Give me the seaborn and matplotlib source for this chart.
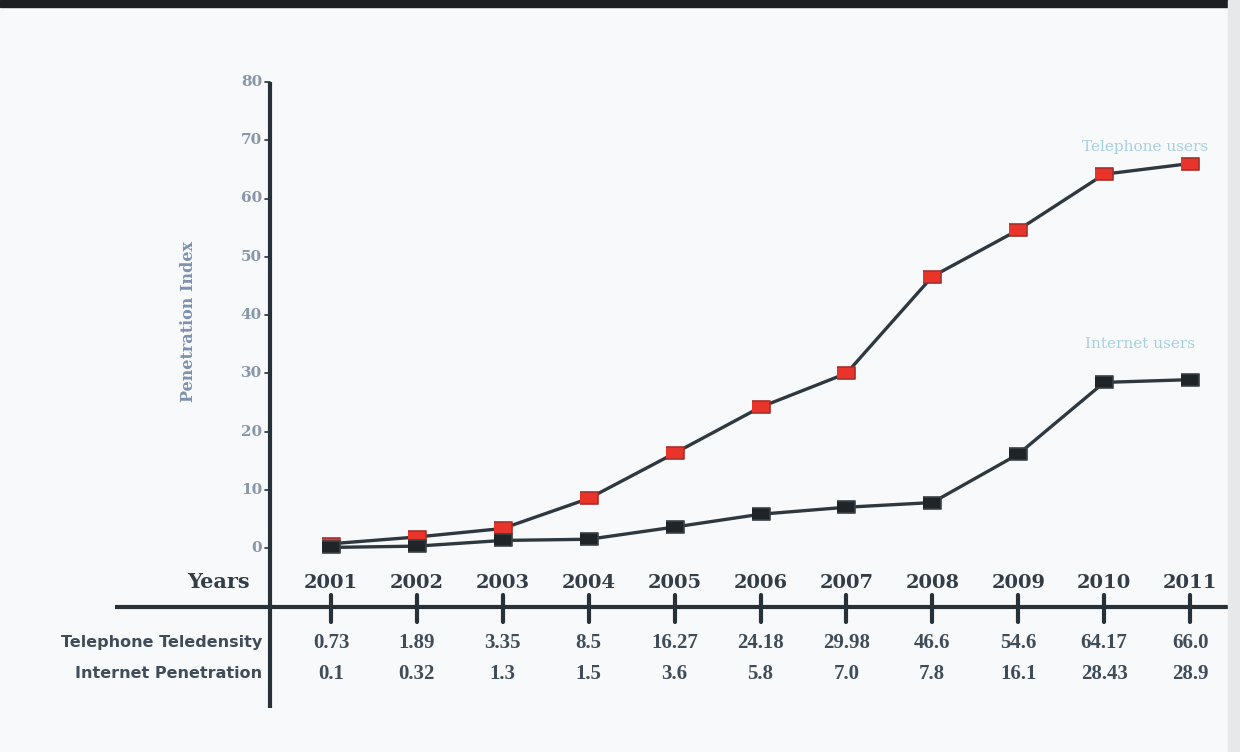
import matplotlib
matplotlib.use("Agg")
import matplotlib.pyplot as plt
import seaborn as sns
import pandas as pd

# Data
years = [2001, 2002, 2003, 2004, 2005, 2006, 2007, 2008, 2009, 2010, 2011]
teledensity = [0.73, 1.89, 3.35, 8.5, 16.27, 24.18, 29.98, 46.6, 54.6, 64.17, 66.0]
internet = [0.1, 0.32, 1.3, 1.5, 3.6, 5.8, 7.0, 7.8, 16.1, 28.43, 28.9]
tele_labels = ["0.73", "1.89", "3.35", "8.5", "16.27", "24.18", "29.98", "46.6", "54.6", "64.17", "66.0"]
inet_labels = ["0.1", "0.32", "1.3", "1.5", "3.6", "5.8", "7.0", "7.8", "16.1", "28.43", "28.9"]
y_ticks = [0, 10, 20, 30, 40, 50, 60, 70, 80]

sns.set_theme(style="white")
plt.rcParams["font.family"] = ["DejaVu Serif"]

W, H = 1240, 752
fig = plt.figure(figsize=(W / 100, H / 100), dpi=100)
fig.patch.set_facecolor("#f8f9fa")
ax = fig.add_axes([0, 0, 1, 1])
ax.set_facecolor("#f8f9fa")

# page geometry: year spacing and value scale in pixels
X_ORIGIN, X_STEP = 331, 85.9
Y_ORIGIN, Y_STEP = 548, 5.825


def fx(px):
    return years[0] + (px - X_ORIGIN) / X_STEP


def fy(py):
    return (Y_ORIGIN - py) / Y_STEP


line_col = "#2e3840"
df = pd.DataFrame({"year": years, "tele": teledensity, "inet": internet})
rect = [(-1.6, -1), (1.6, -1), (1.6, 1), (-1.6, 1)]

sns.lineplot(data=df, x="year", y="tele", ax=ax, color=line_col, lw=2.4,
             marker=rect, markersize=13, markerfacecolor="#e8342a",
             markeredgecolor="#a8302b", markeredgewidth=1.2, zorder=3)
sns.lineplot(data=df, x="year", y="inet", ax=ax, color=line_col, lw=2.4,
             marker=rect, markersize=13, markerfacecolor="#1f2428",
             markeredgecolor="#3a4248", markeredgewidth=1.2, zorder=3)
ax.set_xlim(fx(0), fx(W))
ax.set_ylim(fy(H), fy(0))
ax.axis("off")

# axes lines
axis_col = "#27313a"
ax.plot([fx(270), fx(270)], [fy(82), fy(708)], color=axis_col, lw=3, solid_capstyle="butt")
ax.plot([fx(115), fx(1232)], [fy(607), fy(607)], color=axis_col, lw=3, solid_capstyle="butt")

# value axis ticks and labels
for t in y_ticks:
    ax.plot([fx(265), fx(270)], [t, t], color=axis_col, lw=1.2)
    ax.text(fx(262), t, str(t), ha="right", va="center", fontsize=11,
            fontweight="bold", color="#8796a9")
ax.text(fx(188), fy(322), "Penetration Index", rotation=90, ha="center", va="center",
        fontsize=11.5, fontweight="bold", color="#7e92ad")

# year ticks and labels
dark_txt = "#323d47"
for yr in years:
    ax.plot([yr, yr], [fy(595), fy(622)], color=axis_col, lw=3)
    ax.text(yr, fy(583), str(yr), ha="center", va="center", fontsize=14,
            fontweight="heavy", color=dark_txt)
ax.text(fx(250), fy(582), "Years", ha="right", va="center", fontsize=15,
        fontweight="heavy", color=dark_txt)

# table rows under the axis
row_col = "#3f4d5a"
ax.text(fx(262), fy(643), "Telephone Teledensity", ha="right", va="center",
        fontsize=11.5, fontweight="bold", color=row_col, family="DejaVu Sans")
ax.text(fx(262), fy(674), "Internet Penetration", ha="right", va="center",
        fontsize=11.5, fontweight="bold", color=row_col, family="DejaVu Sans")
for yr, a, b in zip(years, tele_labels, inet_labels):
    ax.text(yr, fy(643), a, ha="center", va="center", fontsize=15,
            fontweight="bold", color=row_col, family="Liberation Serif")
    ax.text(yr, fy(674), b, ha="center", va="center", fontsize=15,
            fontweight="bold", color=row_col, family="Liberation Serif")

# series names
ax.text(fx(1145), fy(147), "Telephone users", ha="center", va="center",
        fontsize=11, color="#a6d0e2")
ax.text(fx(1140), fy(344), "Internet users", ha="center", va="center",
        fontsize=11, color="#a6d0e2")

# page edges
fig.patches.append(plt.Rectangle((0, 1 - 7 / H), 1, 7 / H, transform=fig.transFigure,
                                 color="#1d1f22", zorder=0))
fig.patches.append(plt.Rectangle((1 - 12 / W, 0), 12 / W, 1, transform=fig.transFigure,
                                 color="#e6e8ea", zorder=0))

fig.savefig("out.png", dpi=100, facecolor=fig.get_facecolor())
